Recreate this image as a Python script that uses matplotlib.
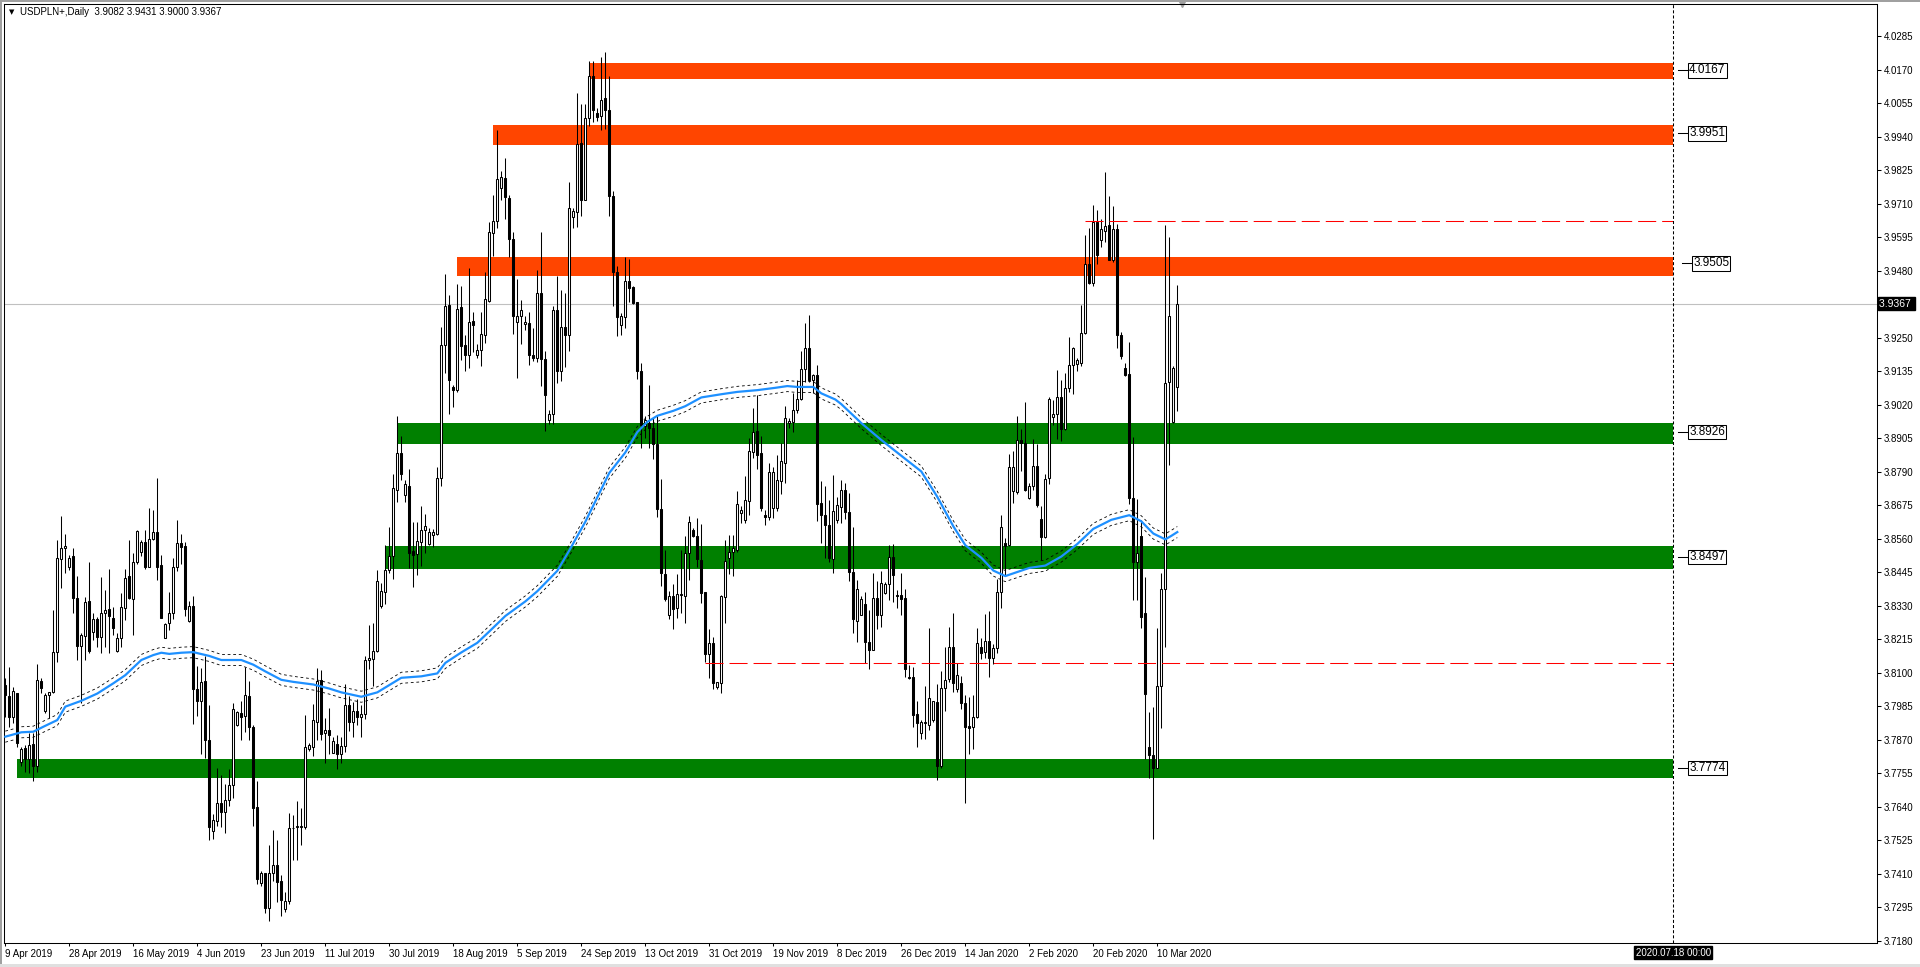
import matplotlib
matplotlib.use("Agg")
import matplotlib.pyplot as plt
import matplotlib.transforms as mtransforms
from matplotlib.patches import Rectangle
import numpy as np

plt.rcParams['font.family'] = ['Liberation Sans', 'DejaVu Sans']
plt.rcParams['lines.scale_dashes'] = False

# ===== データ (USDPLN+ 日足) =====
symbol_title = "USDPLN+,Daily"

opens = [
    3.8058, 3.8020, 3.7950, 3.8030, 3.7794, 3.7841, 3.7805, 3.7856, 3.7779, 3.8073,
    3.7968, 3.8023, 3.8033, 3.8170, 3.8490, 3.8527, 3.8462, 3.8501, 3.8358, 3.8193,
    3.8227, 3.8346, 3.8241, 3.8284, 3.8224, 3.8306, 3.8318, 3.8287, 3.8176, 3.8218,
    3.8321, 3.8432, 3.8352, 3.8479, 3.8515, 3.8549, 3.8464, 3.8558, 3.8583, 3.8470,
    3.8218, 3.8270, 3.8307, 3.8462, 3.8544, 3.8535, 3.8278, 3.8331, 3.8046, 3.8002,
    3.8073, 3.7869, 3.7558, 3.7593, 3.7654, 3.7622, 3.7664, 3.7715, 3.7920, 3.7962,
    3.7951, 3.8022, 3.7915, 3.7639, 3.7379, 3.7414, 3.7294, 3.7414, 3.7441, 3.7385,
    3.7291, 3.7318, 3.7566, 3.7570, 3.7572, 3.7572, 3.7839, 3.7847, 3.7932, 3.8076,
    3.7892, 3.7904, 3.7826, 3.7857, 3.7821, 3.7850, 3.7990, 3.7930, 3.7970, 3.7950,
    3.7960, 3.8145, 3.8148, 3.8174, 3.8329, 3.8376, 3.8454, 3.8502, 3.8729, 3.8853,
    3.8711, 3.8740, 3.8517, 3.8509, 3.8550, 3.8589, 3.8543, 3.8574, 3.8578, 3.8769,
    3.9224, 3.9361, 3.9080, 3.9069, 3.9357, 3.9224, 3.9191, 3.9306, 3.9191, 3.9207,
    3.9260, 3.9375, 3.9609, 3.9650, 3.9762, 3.9797, 3.9731, 3.9589, 3.9304, 3.9325,
    3.9296, 3.9300, 3.9192, 3.9181, 3.9405, 3.9176, 3.8966, 3.8989, 3.9346, 3.9134,
    3.9286, 3.9260, 3.9664, 3.9682, 3.9918, 3.9724, 4.0004, 4.0147, 4.0022, 4.0011,
    4.0072, 4.0032, 3.9736, 3.9475, 3.9295, 3.9321, 3.9444, 3.9423, 3.9372, 3.9134,
    3.8947, 3.8957, 3.8940, 3.8884, 3.8663, 3.8439, 3.8299, 3.8363, 3.8321, 3.8366,
    3.8363, 3.8510, 3.8590, 3.8569, 3.8487, 3.8377, 3.8163, 3.8204, 3.8050, 3.8066,
    3.8359, 3.8493, 3.8515, 3.8523, 3.8650, 3.8626, 3.8690, 3.8858, 3.8929, 3.8853,
    3.8641, 3.8635, 3.8664, 3.8664, 3.8759, 3.8821, 3.8958, 3.8961, 3.9001, 3.9038,
    3.9141, 3.9213, 3.9104, 3.9121, 3.8683, 3.8641, 3.8606, 3.8489, 3.8624, 3.8670,
    3.8726, 3.8653, 3.8447, 3.8278, 3.8300, 3.8336, 3.8206, 3.8180, 3.8358, 3.8297,
    3.8375, 3.8404, 3.8499, 3.8368, 3.8368, 3.8358, 3.8086, 3.8086, 3.7959, 3.7893,
    3.7927, 3.7920, 3.7939, 3.7999, 3.7780, 3.8047, 3.8080, 3.8187, 3.8043, 3.8064,
    3.7997, 3.7917, 3.7913, 3.7950, 3.8187, 3.8170, 3.8210, 3.8152, 3.8184, 3.8379,
    3.8545, 3.8538, 3.8725, 3.8720, 3.8898, 3.8888, 3.8699, 3.8740, 3.8811, 3.8629,
    3.8567, 3.8767, 3.8977, 3.8988, 3.9046, 3.8937, 3.9079, 3.9156, 3.9161, 3.9164,
    3.9266, 3.9504, 3.9436, 3.9646, 3.9586, 3.9617, 3.9638, 3.9518, 3.9622, 3.9258,
    3.9145, 3.9125, 3.8699, 3.8481, 3.8570, 3.8307, 3.7846, 3.7817, 3.7772, 3.8055,
    3.8386, 3.9098, 3.8959, 3.9082,
]
highs = [
    3.8081, 3.8121, 3.8052, 3.8030, 3.7847, 3.7852, 3.7893, 3.7893, 3.8130, 3.8081,
    3.8030, 3.8035, 3.8315, 3.8555, 3.8638, 3.8578, 3.8504, 3.8527, 3.8432, 3.8236,
    3.8361, 3.8481, 3.8304, 3.8293, 3.8430, 3.8384, 3.8458, 3.8326, 3.8236, 3.8373,
    3.8458, 3.8555, 3.8510, 3.8590, 3.8555, 3.8590, 3.8664, 3.8658, 3.8767, 3.8504,
    3.8270, 3.8378, 3.8495, 3.8626, 3.8576, 3.8550, 3.8345, 3.8363, 3.8123, 3.8117,
    3.8158, 3.7991, 3.7616, 3.7774, 3.7748, 3.7719, 3.7769, 3.7996, 3.7968, 3.8003,
    3.8120, 3.8073, 3.7921, 3.7730, 3.7420, 3.7414, 3.7508, 3.7561, 3.7525, 3.7408,
    3.7348, 3.7619, 3.7611, 3.7660, 3.7636, 3.7955, 3.7859, 3.7994, 3.8117, 3.8111,
    3.7945, 3.7979, 3.7879, 3.7888, 3.7880, 3.8060, 3.8020, 3.8000, 3.8010, 3.7990,
    3.8159, 3.8264, 3.8271, 3.8454, 3.8408, 3.8538, 3.8599, 3.8783, 3.8980, 3.8913,
    3.8762, 3.8798, 3.8618, 3.8618, 3.8671, 3.8646, 3.8596, 3.8593, 3.8805, 3.9285,
    3.9469, 3.9397, 3.9087, 3.9433, 3.9426, 3.9260, 3.9488, 3.9339, 3.9228, 3.9339,
    3.9476, 3.9647, 3.9739, 3.9963, 3.9823, 3.9866, 3.9738, 3.9612, 3.9451, 3.9380,
    3.9325, 3.9339, 3.9283, 3.9482, 3.9612, 3.9206, 3.9003, 3.9360, 3.9463, 3.9414,
    3.9402, 3.9783, 3.9696, 4.0088, 4.0053, 4.0053, 4.0200, 4.0198, 4.0039, 4.0214,
    4.0231, 4.0147, 3.9752, 3.9496, 3.9335, 3.9526, 3.9519, 3.9426, 3.9374, 3.9164,
    3.8980, 3.9087, 3.8975, 3.8982, 3.8765, 3.8523, 3.8380, 3.8406, 3.8439, 3.8523,
    3.8569, 3.8638, 3.8598, 3.8630, 3.8610, 3.8377, 3.8250, 3.8224, 3.8070, 3.8367,
    3.8555, 3.8573, 3.8573, 3.8723, 3.8672, 3.8776, 3.8906, 3.9009, 3.9053, 3.8913,
    3.8658, 3.8821, 3.8807, 3.8847, 3.8887, 3.9015, 3.8973, 3.9061, 3.9104, 3.9205,
    3.9301, 3.9327, 3.9125, 3.9156, 3.8758, 3.8741, 3.8693, 3.8778, 3.8704, 3.8761,
    3.8750, 3.8718, 3.8600, 3.8418, 3.8365, 3.8379, 3.8317, 3.8444, 3.8415, 3.8451,
    3.8412, 3.8538, 3.8542, 3.8383, 3.8444, 3.8387, 3.8126, 3.8119, 3.8004, 3.7939,
    3.8054, 3.8253, 3.8004, 3.8061, 3.8105, 3.8187, 3.8259, 3.8307, 3.8134, 3.8090,
    3.8023, 3.8018, 3.8025, 3.8253, 3.8220, 3.8303, 3.8311, 3.8199, 3.8423, 3.8643,
    3.8562, 3.8851, 3.8862, 3.8980, 3.8936, 3.9030, 3.8751, 3.8904, 3.8885, 3.8673,
    3.8783, 3.9046, 3.9035, 3.9140, 3.9106, 3.9129, 3.9251, 3.9219, 3.9181, 3.9361,
    3.9602, 3.9628, 3.9707, 3.9688, 3.9657, 3.9818, 3.9736, 3.9701, 3.9641, 3.9271,
    3.9164, 3.9235, 3.8909, 3.8696, 3.8625, 3.8429, 3.7964, 3.7984, 3.8255, 3.8444,
    3.9638, 3.9594, 3.9153, 3.9431,
]
lows = [
    3.7950, 3.7915, 3.7927, 3.7847, 3.7779, 3.7761, 3.7755, 3.7730, 3.7761, 3.8030,
    3.7961, 3.7944, 3.8030, 3.8138, 3.8390, 3.8441, 3.8453, 3.8304, 3.8144, 3.7995,
    3.8144, 3.8167, 3.8212, 3.8190, 3.8167, 3.8190, 3.8167, 3.8230, 3.8173, 3.8190,
    3.8281, 3.8352, 3.8230, 3.8475, 3.8500, 3.8458, 3.8464, 3.8555, 3.8418, 3.8287,
    3.8218, 3.8247, 3.8286, 3.8450, 3.8474, 3.8296, 3.8275, 3.7926, 3.7953, 3.7821,
    3.7807, 3.7528, 3.7531, 3.7575, 3.7572, 3.7549, 3.7642, 3.7670, 3.7918, 3.7869,
    3.7898, 3.7869, 3.7575, 3.7376, 3.7367, 3.7277, 3.7247, 3.7385, 3.7315, 3.7266,
    3.7280, 3.7306, 3.7458, 3.7458, 3.7510, 3.7563, 3.7832, 3.7815, 3.7871, 3.7869,
    3.7791, 3.7822, 3.7824, 3.7771, 3.7790, 3.7830, 3.7900, 3.7880, 3.7920, 3.7880,
    3.7940, 3.8112, 3.8055, 3.8170, 3.8324, 3.8336, 3.8444, 3.8423, 3.8685, 3.8762,
    3.8685, 3.8459, 3.8394, 3.8437, 3.8466, 3.8512, 3.8538, 3.8531, 3.8574, 3.8740,
    3.9130, 3.8989, 3.9012, 3.9065, 3.9173, 3.9137, 3.9147, 3.9202, 3.9181, 3.9152,
    3.9231, 3.9373, 3.9531, 3.9625, 3.9722, 3.9657, 3.9526, 3.9262, 3.9111, 3.9227,
    3.9276, 3.9157, 3.9171, 3.9167, 3.9083, 3.8931, 3.8954, 3.8954, 3.9094, 3.9101,
    3.9150, 3.9206, 3.9626, 3.9631, 3.9668, 3.9722, 3.9976, 3.9990, 3.9993, 3.9962,
    3.9965, 3.9668, 3.9358, 3.9255, 3.9260, 3.9283, 3.9374, 3.9367, 3.9108, 3.8873,
    3.8905, 3.8870, 3.8835, 3.8635, 3.8397, 3.8345, 3.8285, 3.8252, 3.8287, 3.8306,
    3.8270, 3.8420, 3.8567, 3.8464, 3.8340, 3.8138, 3.8083, 3.8043, 3.8043, 3.8032,
    3.8270, 3.8439, 3.8432, 3.8515, 3.8613, 3.8613, 3.8641, 3.8836, 3.8798, 3.8656,
    3.8609, 3.8624, 3.8630, 3.8656, 3.8712, 3.8750, 3.8941, 3.8927, 3.8990, 3.9036,
    3.9099, 3.9099, 3.9059, 3.8622, 3.8546, 3.8493, 3.8481, 3.8443, 3.8615, 3.8615,
    3.8629, 3.8415, 3.8235, 3.8206, 3.8297, 3.8134, 3.8112, 3.8177, 3.8249, 3.8256,
    3.8372, 3.8350, 3.8343, 3.8321, 3.8300, 3.8087, 3.8080, 3.7913, 3.7845, 3.7874,
    3.7874, 3.7903, 3.7932, 3.7734, 3.7773, 3.7968, 3.8069, 3.8033, 3.8033, 3.7975,
    3.7653, 3.7823, 3.7838, 3.7946, 3.8148, 3.8152, 3.8086, 3.8129, 3.8167, 3.8321,
    3.8437, 3.8534, 3.8684, 3.8715, 3.8791, 3.8725, 3.8696, 3.8728, 3.8668, 3.8488,
    3.8562, 3.8747, 3.8951, 3.8901, 3.8896, 3.8932, 3.9062, 3.9058, 3.9137, 3.9153,
    3.9263, 3.9433, 3.9428, 3.9503, 3.9562, 3.9578, 3.9515, 3.9510, 3.9216, 3.9177,
    3.9118, 3.8680, 3.8350, 3.8350, 3.8255, 3.7806, 3.7739, 3.7531, 3.7772, 3.7912,
    3.8188, 3.8814, 3.8956, 3.9000,
]
closes = [
    3.8024, 3.7950, 3.8038, 3.7860, 3.7839, 3.7805, 3.7852, 3.7779, 3.8075, 3.8049,
    3.8023, 3.8033, 3.8170, 3.8493, 3.8530, 3.8535, 3.8495, 3.8356, 3.8193, 3.8230,
    3.8342, 3.8176, 3.8284, 3.8224, 3.8304, 3.8315, 3.8296, 3.8253, 3.8218, 3.8326,
    3.8427, 3.8356, 3.8479, 3.8586, 3.8549, 3.8464, 3.8558, 3.8583, 3.8464, 3.8287,
    3.8267, 3.8304, 3.8462, 3.8544, 3.8532, 3.8318, 3.8331, 3.8043, 3.8002, 3.8070,
    3.7869, 3.7572, 3.7596, 3.7652, 3.7622, 3.7663, 3.7716, 3.7976, 3.7965, 3.7949,
    3.8025, 3.7915, 3.7637, 3.7394, 3.7412, 3.7294, 3.7414, 3.7440, 3.7383, 3.7321,
    3.7317, 3.7566, 3.7569, 3.7575, 3.7576, 3.7844, 3.7851, 3.7938, 3.8073, 3.7891,
    3.7904, 3.7885, 3.7865, 3.7821, 3.7850, 3.7990, 3.7930, 3.7970, 3.7950, 3.7960,
    3.8145, 3.8150, 3.8174, 3.8415, 3.8382, 3.8454, 3.8502, 3.8733, 3.8853, 3.8781,
    3.8747, 3.8512, 3.8506, 3.8553, 3.8589, 3.8603, 3.8582, 3.8584, 3.8769, 3.9224,
    3.9358, 3.9104, 3.9069, 3.9349, 3.9222, 3.9191, 3.9303, 3.9295, 3.9207, 3.9264,
    3.9383, 3.9614, 3.9650, 3.9794, 3.9801, 3.9732, 3.9589, 3.9325, 3.9325, 3.9346,
    3.9304, 3.9192, 3.9181, 3.9405, 3.9176, 3.9055, 3.8989, 3.9346, 3.9134, 3.9286,
    3.9260, 3.9696, 3.9685, 3.9913, 3.9724, 4.0004, 4.0147, 4.0032, 4.0008, 4.0067,
    4.0032, 3.9736, 3.9475, 3.9321, 3.9325, 3.9444, 3.9420, 3.9370, 3.9134, 3.8952,
    3.8966, 3.8940, 3.8884, 3.8663, 3.8443, 3.8352, 3.8363, 3.8320, 3.8370, 3.8370,
    3.8510, 3.8616, 3.8569, 3.8489, 3.8375, 3.8163, 3.8204, 3.8066, 3.8067, 3.8363,
    3.8483, 3.8515, 3.8529, 3.8681, 3.8658, 3.8693, 3.8861, 3.8925, 3.8849, 3.8667,
    3.8635, 3.8789, 3.8788, 3.8761, 3.8826, 3.8976, 3.8964, 3.9001, 3.9038, 3.9144,
    3.9216, 3.9104, 3.9121, 3.8681, 3.8641, 3.8606, 3.8495, 3.8655, 3.8675, 3.8729,
    3.8653, 3.8447, 3.8285, 3.8389, 3.8353, 3.8206, 3.8180, 3.8358, 3.8297, 3.8408,
    3.8404, 3.8499, 3.8437, 3.8365, 3.8355, 3.8112, 3.8083, 3.7956, 3.7927, 3.7932,
    3.7932, 3.8015, 3.8004, 3.7780, 3.8047, 3.8076, 3.8187, 3.8064, 3.8093, 3.7997,
    3.7914, 3.7910, 3.7950, 3.8202, 3.8167, 3.8210, 3.8152, 3.8184, 3.8379, 3.8599,
    3.8534, 3.8805, 3.8806, 3.8898, 3.8888, 3.8728, 3.8740, 3.8811, 3.8676, 3.8565,
    3.8764, 3.9038, 3.8988, 3.9046, 3.8937, 3.9079, 3.9158, 3.9213, 3.9172, 3.9266,
    3.9504, 3.9436, 3.9646, 3.9534, 3.9622, 3.9633, 3.9518, 3.9622, 3.9260, 3.9188,
    3.9121, 3.8699, 3.8481, 3.8512, 3.8290, 3.8027, 3.7817, 3.7772, 3.8055, 3.8386,
    3.9095, 3.9326, 3.9145, 3.9367,
]

# 日付ラベル (16本ごと)
date_labels = ["9 Apr 2019", "28 Apr 2019", "16 May 2019", "4 Jun 2019", "23 Jun 2019",
               "11 Jul 2019", "30 Jul 2019", "18 Aug 2019", "5 Sep 2019", "24 Sep 2019",
               "13 Oct 2019", "31 Oct 2019", "19 Nov 2019", "8 Dec 2019", "26 Dec 2019",
               "14 Jan 2020", "2 Feb 2020", "20 Feb 2020", "10 Mar 2020"]
date_step = 16

# 移動平均 (読み取り値)
ma_bar = [0, 4, 7, 9.5, 13, 15, 19, 23, 27, 30, 34, 37, 39, 41, 44, 47, 51, 54, 59, 62,
          65, 69, 72, 77, 81, 84, 89, 93, 99, 104, 108, 110, 114, 118, 121, 125, 130, 133,
          138, 141, 145, 148, 151, 155, 158, 160.5, 163, 167, 170, 174, 179, 183, 188,
          192.5, 195.5, 198, 202, 204, 207.5, 209, 214, 219, 225, 229, 233, 237, 240, 244,
          247, 250, 256, 260, 264, 268, 272, 276.5, 281, 284, 287, 290, 291.5, 293]
ma_val = [3.7881, 3.7896, 3.7898, 3.7915, 3.7938, 3.7984, 3.8004, 3.8029, 3.8064, 3.8092,
          3.8144, 3.8161, 3.8169, 3.8165, 3.8169, 3.8171, 3.8158, 3.8144, 3.8144, 3.8128,
          3.8105, 3.8076, 3.8069, 3.8060, 3.8046, 3.8033, 3.8018, 3.8033, 3.8083, 3.8088,
          3.8098, 3.8134, 3.8170, 3.8203, 3.8242, 3.8295, 3.8345, 3.8380, 3.8450, 3.8520,
          3.8618, 3.8702, 3.8786, 3.8856, 3.8926, 3.8961, 3.8982, 3.8999, 3.9015, 3.9045,
          3.9056, 3.9064, 3.9070, 3.9078, 3.9084, 3.9081, 3.9081, 3.9059, 3.9038, 3.9022,
          3.8957, 3.8899, 3.8834, 3.8791, 3.8704, 3.8603, 3.8538, 3.8495, 3.8451, 3.8432,
          3.8460, 3.8468, 3.8499, 3.8542, 3.8594, 3.8625, 3.8641, 3.8620, 3.8578, 3.8558,
          3.8570, 3.8583]
ma_env = 0.0019

# サポート/レジスタンスゾーン
zone_label = [4.0167, 3.9951, 3.9505, 3.8926, 3.8497, 3.7774]
zone_top = [4.0192, 3.9979, 3.9526, 3.8957, 3.8535, 3.7804]
zone_bottom = [4.0137, 3.9910, 3.9461, 3.8885, 3.8456, 3.7739]
zone_start = [146, 122, 113, 98, 95, 3]
zone_color = ["#FF4500", "#FF4500", "#FF4500", "#008000", "#008000", "#008000"]

level_price = [3.9650, 3.8134]
level_start = [270, 175]

price_ticks = [4.0285, 4.0170, 4.0055, 3.9940, 3.9825, 3.9710, 3.9595, 3.9480, 3.9250,
               3.9135, 3.9020, 3.8905, 3.8790, 3.8675, 3.8560, 3.8445, 3.8330, 3.8215,
               3.8100, 3.7985, 3.7870, 3.7755, 3.7640, 3.7525, 3.7410, 3.7295, 3.7180]

cursor_bar = 417
cursor_text = "2020.07.18 00:00"

# ===== 描画 =====
W, H = 1920, 967
fig = plt.figure(figsize=(W / 100, H / 100), dpi=100)
ax = fig.add_axes([4 / W, 1 - 943 / H, 1873 / W, 939 / H])
ax.set_xlim(-0.325, -0.325 + 1873 / 4)
ax.set_ylim(3.7173, 4.0395)

o = np.array(opens); h = np.array(highs); l = np.array(lows); c = np.array(closes)
x = np.arange(len(o))
last_price = c[-1]

# ゾーン
for b, t, s, col in zip(zone_bottom, zone_top, zone_start, zone_color):
    ax.fill_between([s, cursor_bar], b, t, color=col, linewidth=0, zorder=1)

ax.axhline(last_price, color="#C0C0C0", lw=0.8, zorder=0.5)

# ローソク足
up = c >= o
ax.vlines(x, l, h, color="black", linewidth=0.75, zorder=3)
ax.bar(x, np.abs(c - o), bottom=np.minimum(o, c), width=0.5,
       color=np.where(up, "white", "black"), edgecolor="black", linewidth=0.75, zorder=4)

# 移動平均 + エンベロープ
ma = np.array(ma_val)
ax.plot(ma_bar, ma + ma_env, color="black", lw=0.6, dashes=(2, 2), zorder=5)
ax.plot(ma_bar, ma - ma_env, color="black", lw=0.6, dashes=(2, 2), zorder=5)
ax.plot(ma_bar, ma, color="#1E90FF", lw=1.6, zorder=6)

# 水平ライン
for p, s in zip(level_price, level_start):
    ax.plot([s, cursor_bar], [p, p], color="red", lw=0.75, dashes=(13, 4.3), zorder=5)

ax.axvline(cursor_bar, color="black", lw=0.75, dashes=(2.2, 1.5), zorder=7)

# ゾーンのラベル
for i, p in enumerate(zone_label):
    sh = 1 if i == 2 else 0
    ax.plot([418.2 + sh, 420.8 + sh], [p, p], color="black", lw=0.75, clip_on=False, zorder=8)
    ax.text(420.95 + sh, p, f"{p:.4f}", fontsize=8.5, va="center", ha="left", zorder=8,
            bbox=dict(facecolor="white", edgecolor="black", lw=0.75, boxstyle="square,pad=0.1"))

# 軸
ax.yaxis.tick_right()
ax.set_yticks(price_ticks)
ax.set_yticklabels([f"{v:.4f}" for v in price_ticks])
ax.tick_params(axis="y", length=3, width=0.75, pad=2, labelsize=7, direction="out")
ax.set_xticks(np.arange(len(date_labels)) * date_step)
ax.set_xticklabels(date_labels)
for lab in ax.get_xticklabels():
    lab.set_horizontalalignment("left")
ax.tick_params(axis="x", length=2, width=0.75, pad=2, labelsize=7, direction="out")
for sp in ax.spines.values():
    sp.set_linewidth(0.75)

trans_y = mtransforms.blended_transform_factory(ax.transAxes, ax.transData)
ax.text(1.0012, last_price, f"{last_price:.4f} ", transform=trans_y, fontsize=7.5, color="white",
        va="center", ha="left", bbox=dict(facecolor="black", edgecolor="black", boxstyle="square,pad=0.12"))
trans_x = mtransforms.blended_transform_factory(ax.transData, ax.transAxes)
ax.text(cursor_bar, -0.0105, cursor_text, transform=trans_x, fontsize=7, color="white",
        va="center", ha="center", bbox=dict(facecolor="black", edgecolor="black", boxstyle="square,pad=0.15"))

ax.plot(len(o) + 0.3, 1, marker="v", color="#A0A0A0", ms=5, transform=trans_x, clip_on=False)

# ヘッダー
header = f"{symbol_title}  {o[-1]:.4f} {h[-1]:.4f} {l[-1]:.4f} {c[-1]:.4f}"
fig.text(9 / W, 1 - 12 / H, "\u25bc", fontsize=5, family="DejaVu Sans", va="center")
fig.text(20 / W, 1 - 12 / H, header, fontsize=7, va="center", ha="left")

# 外枠
fig.add_artist(Rectangle((0, 1 - 2 / H), 1, 2 / H, transform=fig.transFigure, color="#A0A0A0", lw=0))
fig.add_artist(Rectangle((0, 0), 2 / W, 1, transform=fig.transFigure, color="#A0A0A0", lw=0))
fig.add_artist(Rectangle((0, 0), 1, 3 / H, transform=fig.transFigure, color="#E0E0E0", lw=0))

fig.savefig("out.png", dpi=100)
